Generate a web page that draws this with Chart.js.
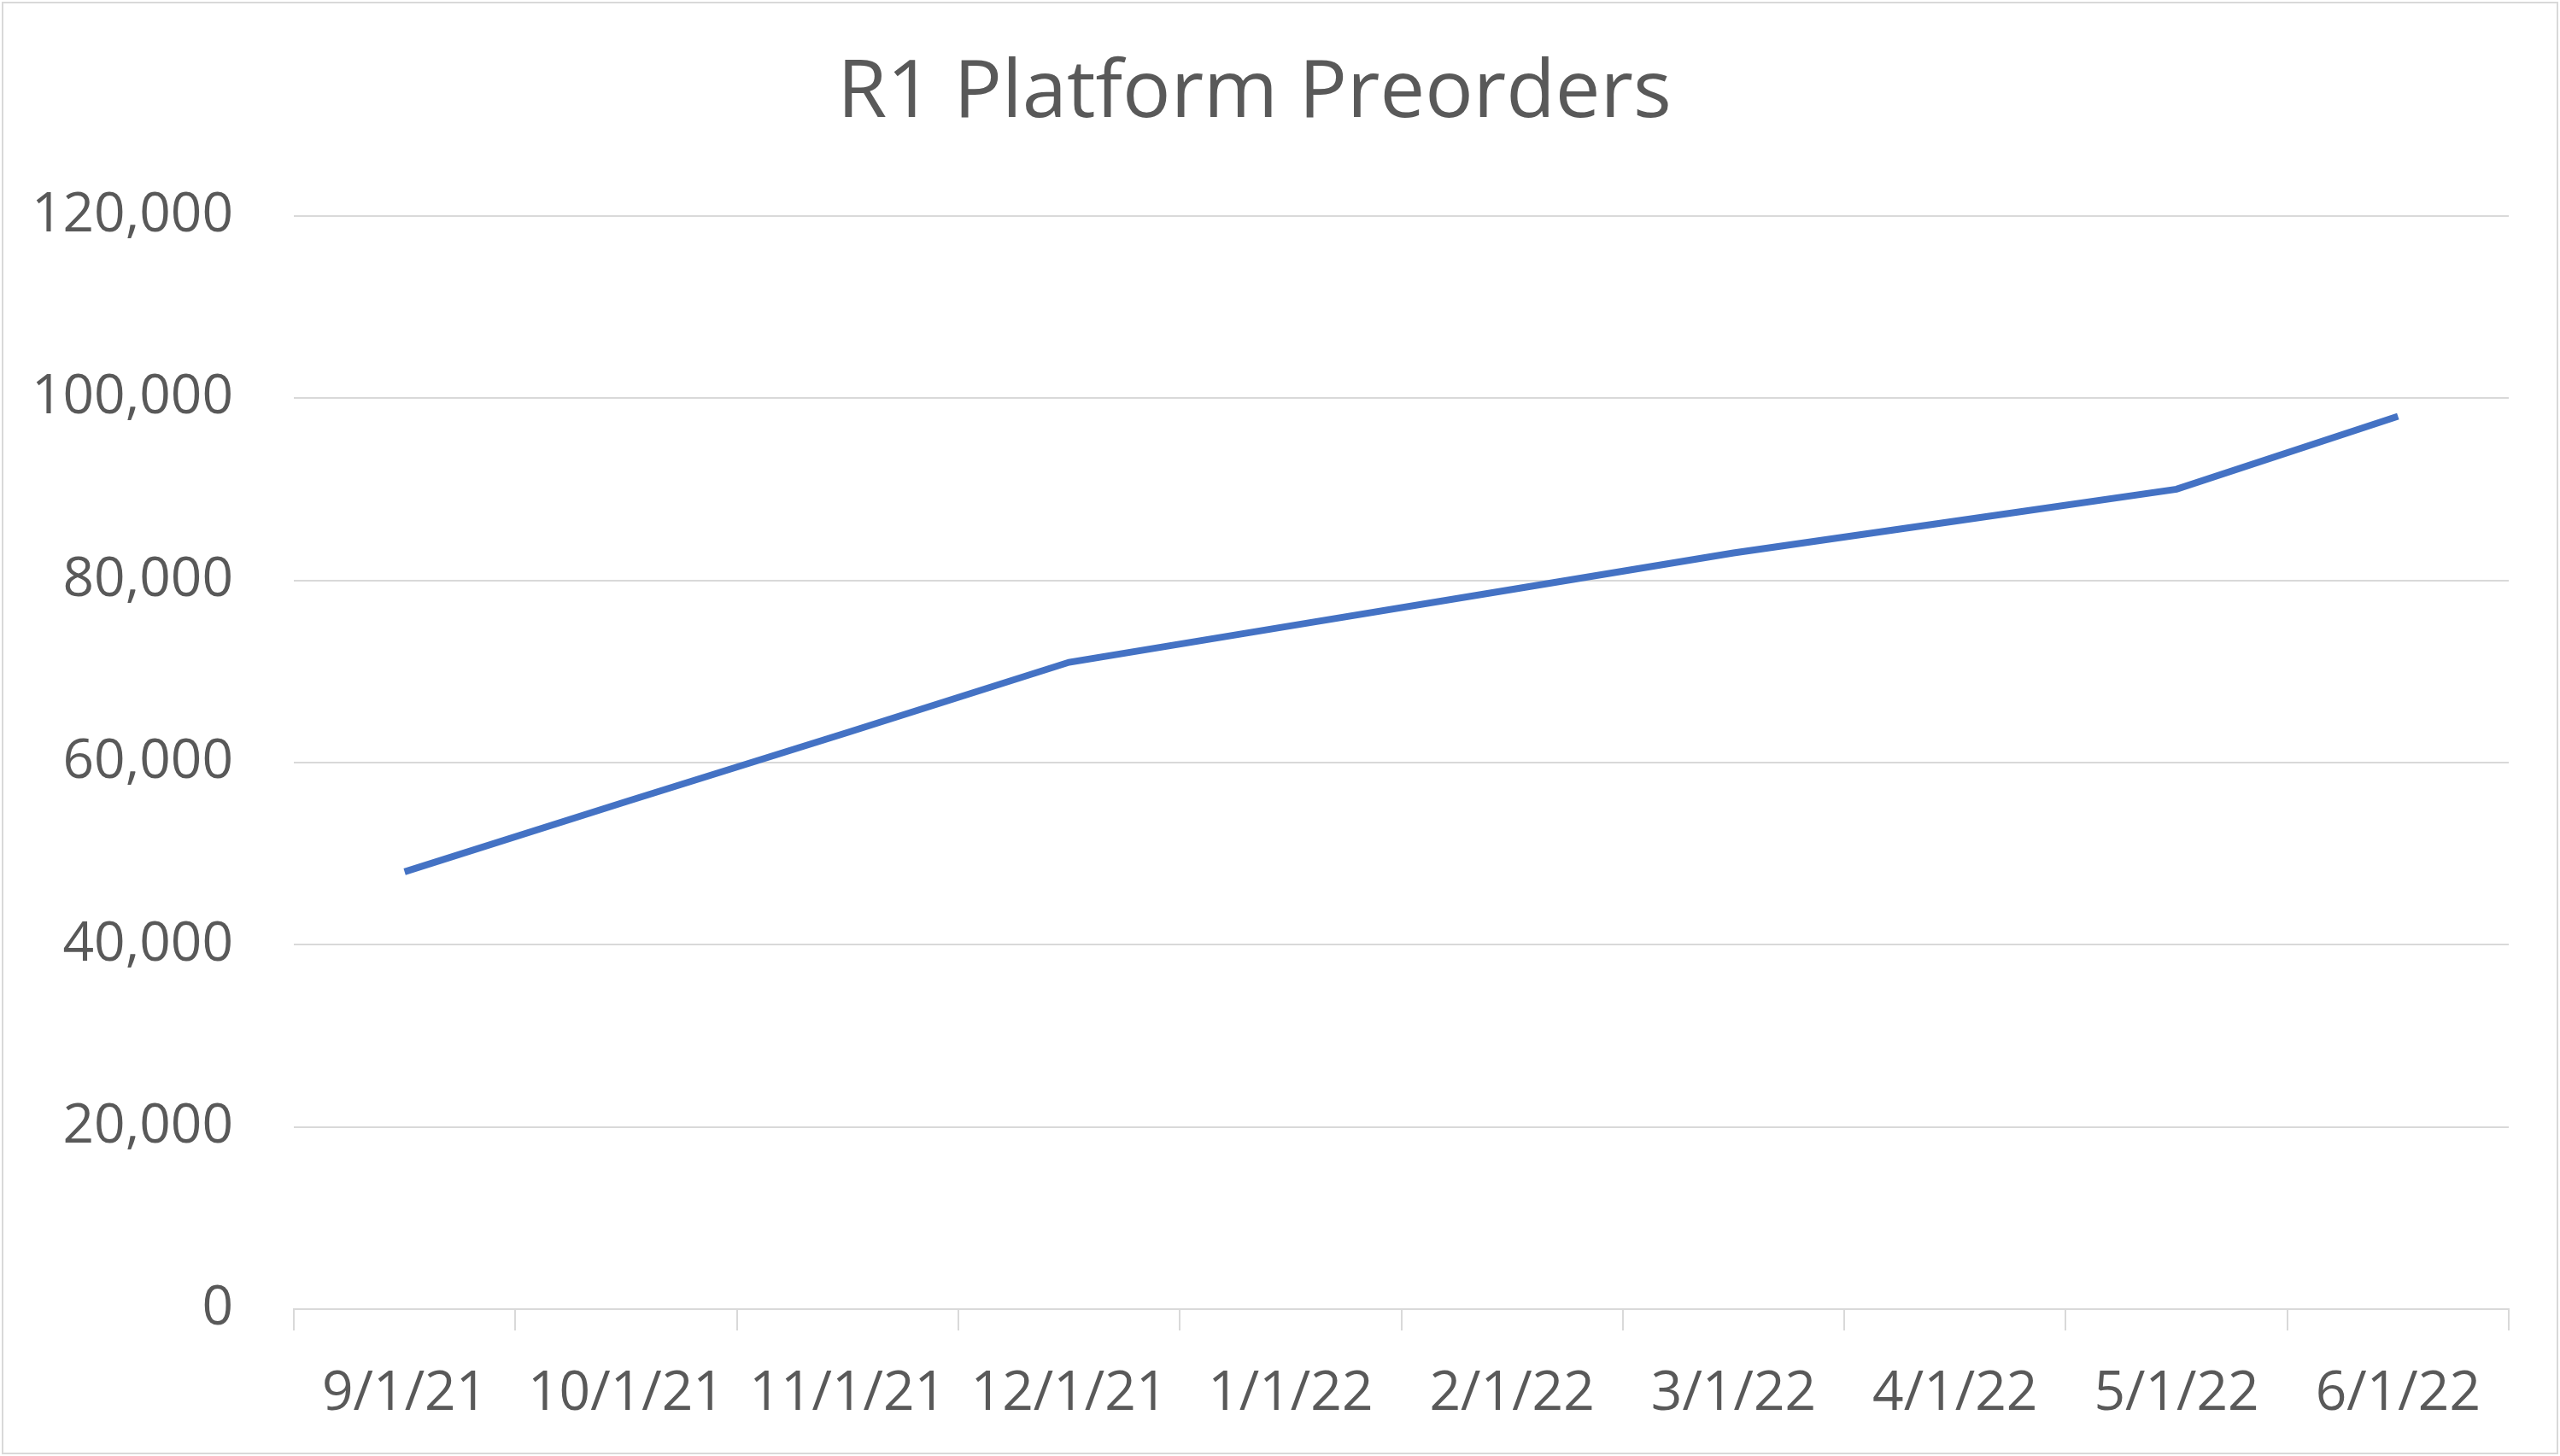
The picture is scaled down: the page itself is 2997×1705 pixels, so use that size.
<!DOCTYPE html>
<html><head><meta charset="utf-8">
<script src="https://cdn.jsdelivr.net/npm/chart.js@4/dist/chart.umd.min.js"></script>
<style>html,body{margin:0;padding:0;background:#fff}#w{width:2997px;height:1705px;position:relative}</style>
</head><body><div id="w"><canvas id="c"></canvas></div>
<script>
const categories = ['9/1/21','10/1/21','11/1/21','12/1/21','1/1/22','2/1/22','3/1/22','4/1/22','5/1/22','6/1/22'];
const preorders = [48000,55700,63300,71000,75000,79000,83000,86500,90000,98000];
const yTicks = [0,20000,40000,60000,80000,100000,120000];
const txt = '#595959', grid = '#d9d9d9';
const borderPlugin = {id:'bd', afterDraw(ch){const c=ch.ctx;c.save();c.strokeStyle=grid;c.lineWidth=2;c.strokeRect(3,3,ch.width-6,ch.height-6);c.restore();}};
new Chart(document.getElementById('c'), {
  type:'line',
  data:{labels:categories, datasets:[{data:preorders, borderColor:'#4472C4', borderWidth:8, pointRadius:0, tension:0, fill:false}]},
  options:{
    responsive:true, maintainAspectRatio:false, animation:false,
    layout:{padding:{left:0,right:60,top:0,bottom:0}},
    plugins:{legend:{display:false}, tooltip:{enabled:false},
      title:{display:true, text:'R1 Platform Preorders', color:txt, font:{family:'Open Sans', size:94, weight:'normal'}, padding:{top:54,bottom:86}}},
    scales:{
      x:{offset:true, grid:{offset:true, drawOnChartArea:false, color:grid, tickLength:25, lineWidth:2},
         border:{color:grid, width:2},
         ticks:{color:txt, font:{family:'Open Sans', size:64}, padding:36, maxRotation:0, autoSkip:false},
         afterFit(s){s.height=172;}},
      y:{min:0, max:120000, afterBuildTicks(s){s.ticks=yTicks.map(v=>({value:v}));},
         grid:{color:grid, lineWidth:2, drawTicks:false}, border:{display:false},
         ticks:{color:txt, font:{family:'Open Sans', size:64}, padding:71, callback:v=>v.toLocaleString('en-US')},
         afterFit(s){s.width=344;}}
    }
  },
  plugins:[borderPlugin]
});
</script></body></html>
